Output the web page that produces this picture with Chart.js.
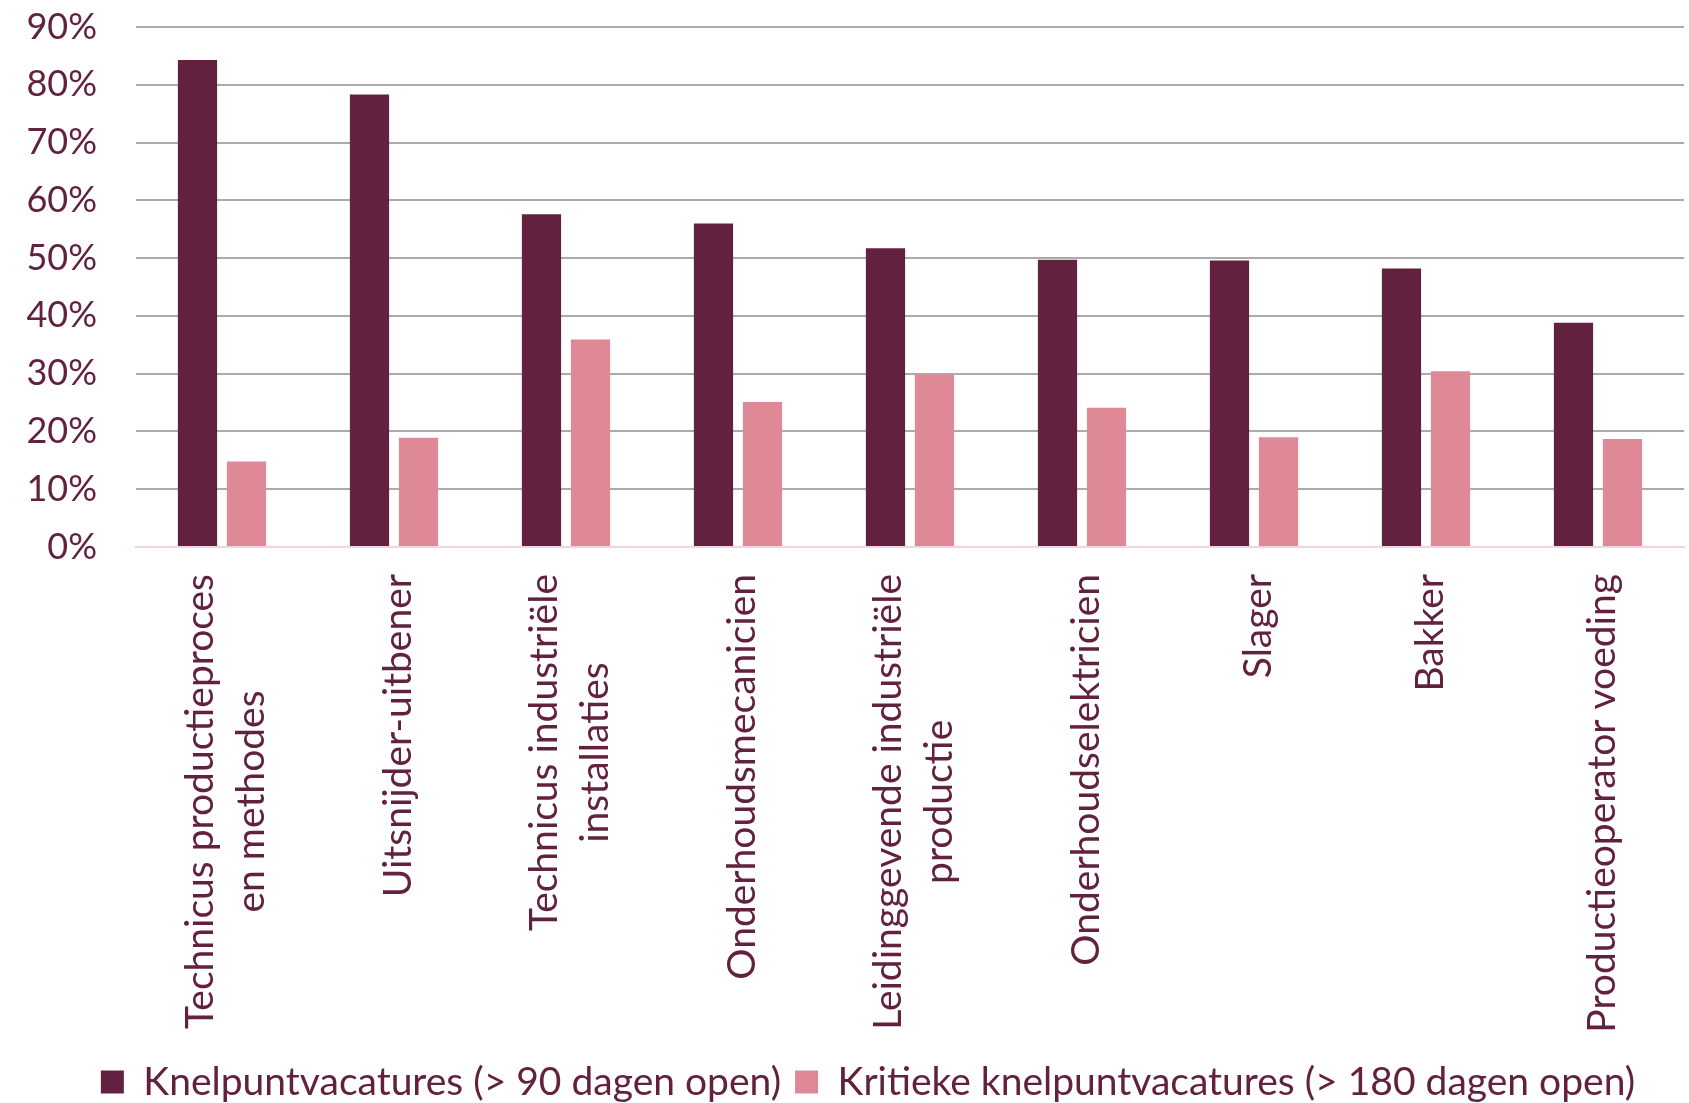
<!DOCTYPE html>
<html lang="nl">
<head>
<meta charset="utf-8">
<title>Knelpuntvacatures</title>
<script src="https://cdn.jsdelivr.net/npm/chart.js@4.4.1/dist/chart.umd.min.js"></script>
<style>
    html, body { margin: 0; padding: 0; background: #ffffff; }
    #wrap { width: 1689px; height: 1103px; }
</style>
</head>
<body>
<div id="wrap"><canvas id="chart" width="1689" height="1103"></canvas></div>
<script>
(function(){

    // categories (multi-line where the original wraps)
    const categories = [
        ['Technicus productieproces', 'en methodes'],
        ['Uitsnijder-uitbener'],
        ['Technicus industriële', 'installaties'],
        ['Onderhoudsmecanicien'],
        ['Leidinggevende industriële', 'productie'],
        ['Onderhoudselektricien'],
        ['Slager'],
        ['Bakker'],
        ['Productieoperator voeding']
    ];

    // share of vacancies, in %
    const knelpunt = [84.3, 78.3, 57.6, 56.0, 51.7, 49.7, 49.6, 48.2, 38.8];
    const kritiek = [14.8, 18.9, 35.9, 25.1, 29.9, 24.1, 19.0, 30.4, 18.7];

    const seriesNames = ['Knelpuntvacatures (> 90 dagen open)', 'Kritieke knelpuntvacatures (> 180 dagen open)'];
    const yTicks = [0, 10, 20, 30, 40, 50, 60, 70, 80, 90];

    const FONT = 'Lato, "Noto Sans", sans-serif';
    const TEXT = '#62223F';
    const DARK = '#62223F';
    const PINK = '#DF8896';
    const LEGEND_SIZE = 39;
    const LEGEND_PAD = 14;

    // draws the category labels rotated, lines centred on each other like the original
    const xLabels = {
        id: 'xLabels',
        afterDraw(chart) {
            const ctx = chart.ctx;
            const x = chart.scales.x;
            ctx.save();
            ctx.font = '39px ' + FONT;
            ctx.fillStyle = TEXT;
            ctx.textAlign = 'center';
            ctx.textBaseline = 'middle';
            categories.forEach((lines, i) => {
                const px = x.getPixelForValue(i);
                const w = Math.max(...lines.map(l => ctx.measureText(l).width));
                ctx.save();
                ctx.translate(px + 4, x.top + 27);
                ctx.rotate(-Math.PI / 2);
                lines.forEach((l, j) => {
                    const off = (j - (lines.length - 1) / 2) * 51;
                    ctx.fillText(l, -w / 2, off);
                });
                ctx.restore();
            });
            ctx.restore();
        }
    };

    // legend sits a bit lower and right of centre in the original
    const legendShift = {
        id: 'legendShift',
        afterLayout(chart) {
            const lg = chart.legend;
            const dy = 1082 - (lg.top + LEGEND_PAD + LEGEND_SIZE / 2);
            lg.top += dy; lg.bottom += dy;
            lg.left += 26; lg.right += 26;
        }
    };

    new Chart(document.getElementById('chart'), {
        type: 'bar',
        data: {
            labels: categories.map(c => c.join(' ')),
            datasets: [
                { label: seriesNames[0], data: knelpunt, backgroundColor: DARK, borderWidth: 0,
                  categoryPercentage: 0.57, barPercentage: 0.8 },
                { label: seriesNames[1], data: kritiek, backgroundColor: PINK, borderWidth: 0,
                  categoryPercentage: 0.57, barPercentage: 0.8 }
            ]
        },
        options: {
            responsive: false,
            animation: false,
            devicePixelRatio: 1,
            layout: { padding: { top: 27, right: 5, bottom: 0, left: 0 } },
            plugins: {
                tooltip: { enabled: false },
                legend: {
                    position: 'bottom',
                    labels: {
                        color: TEXT,
                        font: { family: FONT, size: LEGEND_SIZE },
                        boxWidth: 23,
                        boxHeight: 23,
                        padding: LEGEND_PAD
                    }
                }
            },
            scales: {
                x: {
                    grid: { display: false },
                    border: { color: '#F2D3E1', width: 2 },
                    ticks: { display: false },
                    afterFit(scale) { scale.height = 493; }
                },
                y: {
                    min: 0,
                    max: 90,
                    afterBuildTicks(scale) { scale.ticks = yTicks.map(v => ({ value: v })); },
                    afterFit(scale) {
                        scale.width = 136;
                        // tick padding would otherwise be added above and below the axis
                        scale.paddingTop = 0;
                        scale.paddingBottom = 0;
                    },
                    border: { display: false },
                    grid: {
                        drawTicks: false,
                        lineWidth: 2,
                        color: c => c.tick && c.tick.value === 0 ? '#F2D3E1' : '#ABABAB'
                    },
                    ticks: {
                        padding: 39,
                        color: TEXT,
                        font: { family: FONT, size: 36 },
                        callback: v => v + '%'
                    }
                }
            }
        },
        plugins: [xLabels, legendShift]
    });

})();
</script>
</body>
</html>
